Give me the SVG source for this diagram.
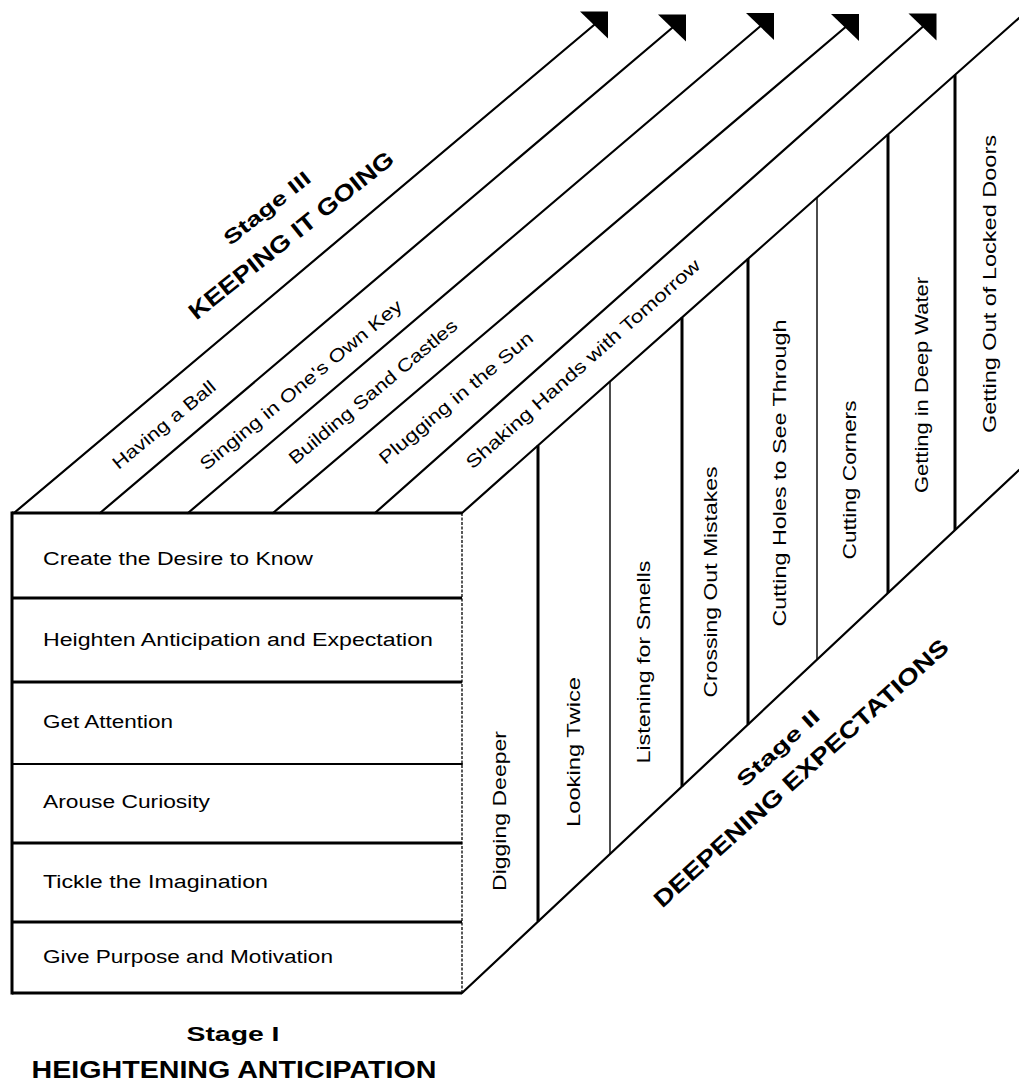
<svg xmlns="http://www.w3.org/2000/svg" width="1019" height="1082" viewBox="0 0 1019 1082">
<style>
.ln{stroke:#000;stroke-width:2.2;fill:none;stroke-linecap:round}
.thk{stroke:#000;stroke-width:3;fill:none}
.thn{stroke:#000;stroke-width:1.4;fill:none}
.dot{stroke:#000;stroke-width:1.3;fill:none;stroke-dasharray:3 1.5}
.t{font-family:"Liberation Sans",Arial,sans-serif;font-size:18px;fill:#000}
.c{dominant-baseline:central;text-anchor:middle}
.f{dominant-baseline:central;text-anchor:start}
.b{font-family:"Liberation Sans",Arial,sans-serif;font-weight:bold;fill:#000}
</style>
<defs>
<marker id="ah" markerUnits="userSpaceOnUse" markerWidth="30" markerHeight="30" viewBox="0 0 30 30" refX="15" refY="14.5" orient="0">
<path d="M1,1 L29,1 L29,28 Z" fill="#000"/>
</marker>
</defs>
<rect width="1019" height="1082" fill="#fff"/>

<g id="connectors">
<line class="ln" x1="14" y1="513" x2="594" y2="25" marker-end="url(#ah)"/>
<line class="ln" x1="100" y1="513" x2="672" y2="28" marker-end="url(#ah)"/>
<line class="ln" x1="188" y1="513" x2="760" y2="26.5" marker-end="url(#ah)"/>
<line class="ln" x1="273" y1="513" x2="845" y2="27.5" marker-end="url(#ah)"/>
<line class="ln" x1="375" y1="513" x2="922.5" y2="27" marker-end="url(#ah)"/>
<line class="ln" x1="462" y1="513" x2="1019" y2="18"/>
<line class="ln" x1="462" y1="993" x2="1019" y2="470"/>
</g>

<g id="front-box">
<line class="thk" x1="12" y1="513" x2="462" y2="513"/>
<line class="thk" x1="12" y1="511.5" x2="12" y2="994.5"/>
<line class="thk" x1="12" y1="993" x2="462" y2="993"/>
<line class="dot" x1="462" y1="513" x2="462" y2="993"/>
<line class="thk" x1="12" y1="598" x2="462" y2="598"/>
<line class="thk" x1="12" y1="682" x2="462" y2="682"/>
<line class="ln" x1="12" y1="764" x2="462" y2="764"/>
<line class="thk" x1="12" y1="843" x2="462" y2="843"/>
<line class="thk" x1="12" y1="922" x2="462" y2="922"/>
</g>

<g id="stage1-row1"><text class="t f" x="43" y="559" textLength="270" lengthAdjust="spacingAndGlyphs">Create the Desire to Know</text></g>
<g id="stage1-row2"><text class="t f" x="43" y="640" textLength="390" lengthAdjust="spacingAndGlyphs">Heighten Anticipation and Expectation</text></g>
<g id="stage1-row3"><text class="t f" x="43" y="722" textLength="130" lengthAdjust="spacingAndGlyphs">Get Attention</text></g>
<g id="stage1-row4"><text class="t f" x="43" y="802" textLength="167" lengthAdjust="spacingAndGlyphs">Arouse Curiosity</text></g>
<g id="stage1-row5"><text class="t f" x="43" y="882" textLength="225" lengthAdjust="spacingAndGlyphs">Tickle the Imagination</text></g>
<g id="stage1-row6"><text class="t f" x="43" y="957" textLength="290" lengthAdjust="spacingAndGlyphs">Give Purpose and Motivation</text></g>

<g id="stage1-label">
<text class="b" x="233" y="1033" font-size="21" text-anchor="middle" dominant-baseline="central" textLength="93" lengthAdjust="spacingAndGlyphs">Stage I</text>
<text class="b" x="234" y="1069" font-size="24" text-anchor="middle" dominant-baseline="central" textLength="405" lengthAdjust="spacingAndGlyphs">HEIGHTENING ANTICIPATION</text>
</g>

<g id="side-face">
<line class="thk" x1="538" y1="445.5" x2="538" y2="921.6"/>
<line class="thn" x1="610" y1="381.5" x2="610" y2="854"/>
<line class="thk" x1="682" y1="317.5" x2="682" y2="786.4"/>
<line class="thk" x1="748" y1="258.8" x2="748" y2="724.4"/>
<line class="thn" x1="817" y1="197.5" x2="817" y2="659.7"/>
<line class="thk" x1="888" y1="134.4" x2="888" y2="593"/>
<line class="thk" x1="955" y1="74.9" x2="955" y2="530"/>
</g>

<g id="stage2-col1"><text class="t c" transform="translate(500,811) rotate(-90)" textLength="160" lengthAdjust="spacingAndGlyphs">Digging Deeper</text></g>
<g id="stage2-col2"><text class="t c" transform="translate(574,752) rotate(-90)" textLength="150" lengthAdjust="spacingAndGlyphs">Looking Twice</text></g>
<g id="stage2-col3"><text class="t c" transform="translate(644,662) rotate(-90)" textLength="203" lengthAdjust="spacingAndGlyphs">Listening for Smells</text></g>
<g id="stage2-col4"><text class="t c" transform="translate(711,582) rotate(-90)" textLength="231" lengthAdjust="spacingAndGlyphs">Crossing Out Mistakes</text></g>
<g id="stage2-col5"><text class="t c" transform="translate(780,473) rotate(-90)" textLength="307" lengthAdjust="spacingAndGlyphs">Cutting Holes to See Through</text></g>
<g id="stage2-col6"><text class="t c" transform="translate(850,480) rotate(-90)" textLength="159" lengthAdjust="spacingAndGlyphs">Cutting Corners</text></g>
<g id="stage2-col7"><text class="t c" transform="translate(922,385) rotate(-90)" textLength="216" lengthAdjust="spacingAndGlyphs">Getting in Deep Water</text></g>
<g id="stage2-col8"><text class="t c" transform="translate(990,284) rotate(-90)" textLength="298" lengthAdjust="spacingAndGlyphs">Getting Out of Locked Doors</text></g>

<g id="stage2-label">
<text class="b" font-size="20" text-anchor="middle" dominant-baseline="central" transform="translate(778,748) rotate(-42)" textLength="104" lengthAdjust="spacingAndGlyphs">Stage II</text>
<text class="b" font-size="23" text-anchor="middle" dominant-baseline="central" transform="translate(801,773) rotate(-42)" textLength="388" lengthAdjust="spacingAndGlyphs">DEEPENING EXPECTATIONS</text>
</g>

<g id="stage3-stripe1"><text class="t c" transform="translate(164,425) rotate(-39.5)" textLength="128" lengthAdjust="spacingAndGlyphs">Having a Ball</text></g>
<g id="stage3-stripe2"><text class="t c" transform="translate(301,385) rotate(-39.5)" textLength="256" lengthAdjust="spacingAndGlyphs">Singing in One's Own Key</text></g>
<g id="stage3-stripe3"><text class="t c" transform="translate(373,392) rotate(-40)" textLength="214" lengthAdjust="spacingAndGlyphs">Building Sand Castles</text></g>
<g id="stage3-stripe4"><text class="t c" transform="translate(456,398) rotate(-40)" textLength="195" lengthAdjust="spacingAndGlyphs">Plugging in the Sun</text></g>
<g id="stage3-stripe5"><text class="t c" transform="translate(583,364) rotate(-41.5)" textLength="306" lengthAdjust="spacingAndGlyphs">Shaking Hands with Tomorrow</text></g>

<g id="stage3-label">
<text class="b" font-size="20" text-anchor="middle" dominant-baseline="central" transform="translate(267,208) rotate(-38.5)" textLength="105" lengthAdjust="spacingAndGlyphs">Stage III</text>
<text class="b" font-size="23" text-anchor="middle" dominant-baseline="central" transform="translate(291,235) rotate(-38.5)" textLength="255" lengthAdjust="spacingAndGlyphs">KEEPING IT GOING</text>
</g>
</svg>
